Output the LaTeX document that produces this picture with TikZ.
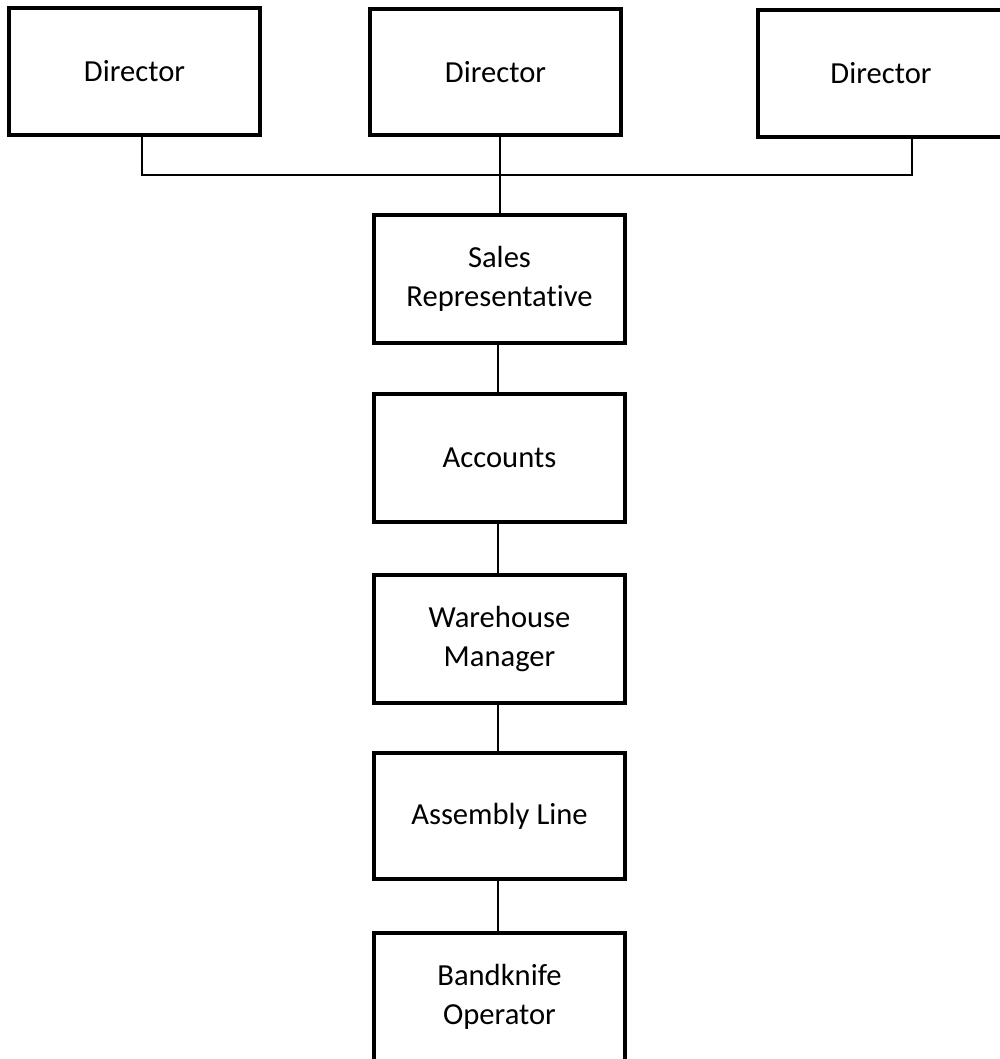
\documentclass[tikz,border=0pt]{standalone}
\usepackage{fontspec}
\setmainfont{Carlito}[Ligatures=NoCommon]
\usetikzlibrary{calc}
\tikzset{
  post/.style={draw=black, line width=4pt, fill=white, minimum width=251pt, minimum height=128pt,
    inner sep=0pt, align=center, font=\fontsize{30.6}{39}\selectfont},
  link/.style={line width=1.6pt}
}
\begin{document}
\begin{tikzpicture}[x=1pt, y=-1pt]
		%%%%% START %%%%%
		
		\path[use as bounding box, clip] (0, 0) rectangle (1000, 1059);
		
		\node[post, minimum height=127pt] (dir1) at (134.5, 71.5) {Director};
		\node[post, minimum height=126pt] (dir2) at (495.5, 72) {Director};
		\node[post, minimum width=246pt, minimum height=127pt] (dir3) at (881, 73.5) {Director};
		
		\coordinate (bus) at (500, 175);
		
		\node[post] (sales) at (499.5, 279) {Sales\\Representative};
		\node[post] (accounts) at (499.5, 458) {Accounts};
		\node[post] (warehouse) at (499.5, 639) {Warehouse\\Manager};
		\node[post, minimum height=126pt] (assembly) at (499.5, 816) {Assembly Line};
		\node[post] (bandknife) at (499.5, 997) {Bandknife\\Operator};
		
		\draw[link] ([xshift=7.5pt]dir1.south) |- (bus) -| ([xshift=31pt]dir3.south);
		\draw[link] (bus |- dir2.south) -- (bus |- sales.north);
		
		\draw[link] ([xshift=-1.5pt]sales.south) -- ([xshift=-1.5pt]accounts.north);
		\draw[link] ([xshift=-1.5pt]accounts.south) -- ([xshift=-1.5pt]warehouse.north);
		\draw[link] ([xshift=-1.5pt]warehouse.south) -- ([xshift=-1.5pt]assembly.north);
		\draw[link] ([xshift=-1.5pt]assembly.south) -- ([xshift=-1.5pt]bandknife.north);
		
		%%%%% END %%%%%
	\end{tikzpicture}
\end{document}
